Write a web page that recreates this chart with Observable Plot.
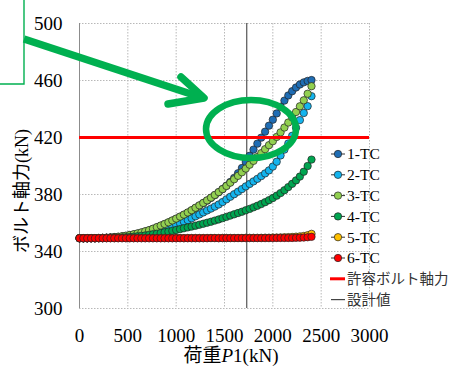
<!DOCTYPE html>
<html><head><meta charset="utf-8">
<script src="https://cdn.jsdelivr.net/npm/d3@7"></script>
<script src="https://cdn.jsdelivr.net/npm/@observablehq/plot@0.6"></script>
<style>
body{margin:0;background:#fff;}
#wrap{position:relative;width:454px;height:368px;overflow:hidden;background:#fff;}
#wrap svg.ov{position:absolute;left:0;top:0;pointer-events:none;}
#wrap svg text{font-family:"Liberation Serif","Times New Roman","DejaVu Serif",serif;}
</style></head><body><div id="wrap"></div>
<script>
// ---- data ----
const loads = [
  0,40,80,120,160,200,240,280,320,360,
  400,440,480,520,560,600,640,680,720,760,
  800,840,880,920,960,1000,1040,1080,1120,1160,
  1200,1240,1280,1320,1360,1400,1440,1480,1520,1560,
  1600,1640,1680,1720,1760,1800,1840,1880,1920,1960,
  2000,2040,2080,2120,2160,2200,2240,2280,2320,2360,
  2400];
const tc1 = [
  349.3,349.3,349.3,349.3,349.3,349.4,349.5,349.6,349.8,350.0,
  350.2,350.5,350.9,351.4,351.9,352.5,353.2,354.0,354.8,355.8,
  356.9,358.0,359.1,360.3,361.6,362.9,364.3,365.7,367.2,368.8,
  370.5,372.2,373.9,375.7,377.6,379.5,381.6,383.8,386.2,388.8,
  391.7,394.9,398.6,402.8,407.2,411.5,415.7,419.9,424.1,428.3,
  432.5,436.9,441.6,445.9,449.5,452.5,455.1,457.2,458.7,459.7,
  460.3];
const tc2 = [
  349.3,349.3,349.3,349.3,349.4,349.4,349.5,349.6,349.7,349.9,
  350.1,350.3,350.6,350.9,351.3,351.8,352.3,352.9,353.5,354.1,
  354.8,355.5,356.2,357.0,357.9,358.8,359.8,360.9,362.0,363.3,
  364.7,366.0,367.4,368.8,370.1,371.5,373.0,374.7,376.6,378.4,
  380.2,382.0,383.8,385.7,387.4,389.2,391.0,392.9,394.8,396.9,
  399.6,403.0,407.4,411.5,415.8,421.2,426.8,432.2,437.2,442.0,
  449.0];
const tc3 = [
  349.3,349.3,349.3,349.4,349.4,349.5,349.6,349.7,349.9,350.1,
  350.4,350.7,351.1,351.6,352.1,352.7,353.4,354.2,355.0,356.0,
  357.1,358.2,359.3,360.5,361.8,363.1,364.5,365.9,367.4,369.0,
  370.7,372.4,374.1,375.9,377.8,379.7,381.7,383.8,386.0,388.3,
  390.7,393.1,395.6,398.2,400.9,403.6,406.3,409.0,411.8,414.6,
  417.4,420.4,423.6,427.0,430.5,434.1,437.9,441.9,446.1,450.7,
  456.0];
const tc4 = [
  349.3,349.3,349.3,349.3,349.3,349.4,349.4,349.5,349.5,349.6,
  349.7,349.8,350.0,350.2,350.4,350.7,351.0,351.3,351.7,352.1,
  352.5,353.0,353.5,354.0,354.5,355.1,355.7,356.3,356.9,357.5,
  358.1,358.8,359.5,360.2,360.9,361.7,362.5,363.4,364.3,365.2,
  366.1,367.0,367.9,368.9,369.9,371.0,372.1,373.3,374.6,376.0,
  377.5,379.2,381.0,383.0,385.2,387.5,389.9,392.6,396.0,400.0,
  404.5];
const tc5 = [
  349.4,349.4,349.4,349.4,349.4,349.4,349.4,349.4,349.4,349.4,
  349.4,349.4,349.4,349.4,349.4,349.4,349.4,349.4,349.4,349.4,
  349.4,349.4,349.5,349.4,349.4,349.5,349.5,349.4,349.5,349.5,
  349.5,349.5,349.5,349.5,349.5,349.5,349.5,349.5,349.5,349.5,
  349.5,349.5,349.5,349.6,349.6,349.6,349.6,349.6,349.7,349.7,
  349.8,349.8,349.9,350.0,350.1,350.2,350.4,350.6,350.9,351.4,
  352.4];
const tc6 = [
  349.3,349.3,349.3,349.3,349.3,349.3,349.3,349.3,349.3,349.3,
  349.3,349.3,349.3,349.3,349.3,349.3,349.3,349.3,349.3,349.3,
  349.3,349.3,349.3,349.3,349.3,349.3,349.3,349.3,349.3,349.3,
  349.3,349.3,349.3,349.3,349.4,349.4,349.3,349.4,349.4,349.4,
  349.4,349.4,349.4,349.4,349.4,349.4,349.4,349.4,349.4,349.4,
  349.4,349.5,349.5,349.5,349.5,349.5,349.6,349.7,349.8,350.0,
  350.3];
const seriesNames = ["1-TC","2-TC","3-TC","4-TC","5-TC","6-TC"];
const seriesValues = [tc1, tc2, tc3, tc4, tc5, tc6];
const seriesColors = ["#1f6db4","#14b4ee","#92d050","#00a550","#ffc000","#ff0000"];
const xTicks = [0,500,1000,1500,2000,2500,3000];
const yTicks = [300,340,380,420,460,500];
const allowableAxial = 420;   // 許容ボルト軸力
const designLoad = 1730;      // 設計値
const lineLegend = ["許容ボルト軸力","設計値"];

// ---- chart ----
const W = 454, H = 368;
const SERIF = "'Liberation Serif','Times New Roman','DejaVu Serif',serif";
const seriesMarks = seriesValues.map((vals, i) =>
  Plot.dot(loads.map((l, j) => ({load: l, value: vals[j]})), {
    x: "load", y: "value", r: 3.7,
    fill: seriesColors[i], stroke: "#222", strokeWidth: 0.7
  })
);

const chart = Plot.plot({
  width: W, height: H,
  marginLeft: 79, marginRight: 85, marginTop: 23, marginBottom: 60,
  style: {fontFamily: SERIF, fontSize: "19px", color: "#000", background: "#fff"},
  x: {domain: [0, 3000]},
  y: {domain: [300, 500]},
  marks: [
    Plot.gridX(xTicks.filter(v => v > 0), {stroke: "#b8b8b8", strokeOpacity: 1, strokeDasharray: "1.5,1.5"}),
    Plot.gridY(yTicks, {stroke: "#b8b8b8", strokeOpacity: 1, strokeDasharray: "1.5,1.5"}),
    Plot.ruleX([0], {stroke: "#8c8c8c", strokeWidth: 1}),
    Plot.ruleX([designLoad], {stroke: "#555", strokeWidth: 1.2}),
    Plot.axisX(xTicks, {tickSize: 0, tickPadding: 20, label: null, tickFormat: d => String(d), fontFamily: SERIF, fontSize: 19}),
    Plot.axisY(yTicks, {tickSize: 0, tickPadding: 17, label: null, tickFormat: d => String(d), fontFamily: SERIF, fontSize: 19}),
    ...seriesMarks,
    Plot.ruleY([allowableAxial], {stroke: "#ff0000", strokeWidth: 3})
  ]
});
const wrap = document.getElementById("wrap");
wrap.appendChild(chart);

// ---- overlay: titles, legend, annotations ----
const ov = d3.select(wrap).append("svg").attr("class", "ov")
  .attr("width", W).attr("height", H);
const SERIF_JP = "'Liberation Serif','Times New Roman','DejaVu Serif','Noto Sans CJK JP',serif";

// axis titles
const xt = ov.append("text").attr("x", 231).attr("y", 362)
  .attr("text-anchor", "middle")
  .style("font-family", SERIF_JP)
  .style("font-size", "19px");
xt.append("tspan").text("荷重");
xt.append("tspan").style("font-style", "italic").text("P");
xt.append("tspan").text("1(kN)");

ov.append("text")
  .attr("transform", "translate(28,191) rotate(-90)")
  .attr("text-anchor", "middle")
  .style("font-family", SERIF_JP)
  .style("font-size", "18px")
  .text("ボルト軸力(kN)");

// legend
const lgX = 338, lgTextX = 347, lgY0 = 154, lgDy = 20.8;
const lg = ov.append("g")
  .style("font-family", SERIF_JP)
  .style("font-size", "15.5px");
seriesNames.forEach((name, i) => {
  const y = lgY0 + i * lgDy;
  lg.append("line").attr("x1", lgX - 7).attr("x2", lgX + 7).attr("y1", y).attr("y2", y)
    .attr("stroke", "#333").attr("stroke-width", 1);
  lg.append("circle").attr("cx", lgX).attr("cy", y).attr("r", 3.7)
    .attr("fill", seriesColors[i]).attr("stroke", "#222").attr("stroke-width", 0.7);
  lg.append("text").attr("x", lgTextX).attr("y", y).attr("dy", "0.35em").text(name);
});
{
  const y = lgY0 + 6 * lgDy;
  lg.append("line").attr("x1", 330).attr("x2", 345).attr("y1", y).attr("y2", y)
    .attr("stroke", "#ff0000").attr("stroke-width", 3);
  lg.append("text").attr("x", lgTextX).attr("y", y).attr("dy", "0.35em")
    .style("font-family", "'Noto Sans CJK JP', sans-serif").style("font-size", "14.5px")
    .attr("fill", "#333").text(lineLegend[0]);
  const y2 = lgY0 + 7 * lgDy;
  lg.append("line").attr("x1", 331).attr("x2", 345).attr("y1", y2).attr("y2", y2)
    .attr("stroke", "#444").attr("stroke-width", 1.2);
  lg.append("text").attr("x", lgTextX).attr("y", y2).attr("dy", "0.35em")
    .style("font-family", "'Noto Sans CJK JP', sans-serif").style("font-size", "14.5px")
    .attr("fill", "#333").text(lineLegend[1]);
}

// annotations (green callout)
const green = "#00b050";
ov.append("path").attr("d", "M24,0 L24,84 L0,84")
  .attr("fill", "none").attr("stroke", green).attr("stroke-width", 1.4);
ov.append("line").attr("x1", 24).attr("y1", 39).attr("x2", 200).attr("y2", 97)
  .attr("stroke", green).attr("stroke-width", 7.5);
ov.append("path").attr("d", "M181,77 L204,98 L168,104")
  .attr("fill", "none").attr("stroke", green).attr("stroke-width", 7.5)
  .attr("stroke-linecap", "round").attr("stroke-linejoin", "round");
ov.append("ellipse").attr("cx", 251).attr("cy", 129).attr("rx", 45).attr("ry", 29)
  .attr("fill", "none").attr("stroke", green).attr("stroke-width", 6.5);
</script>
</body></html>
